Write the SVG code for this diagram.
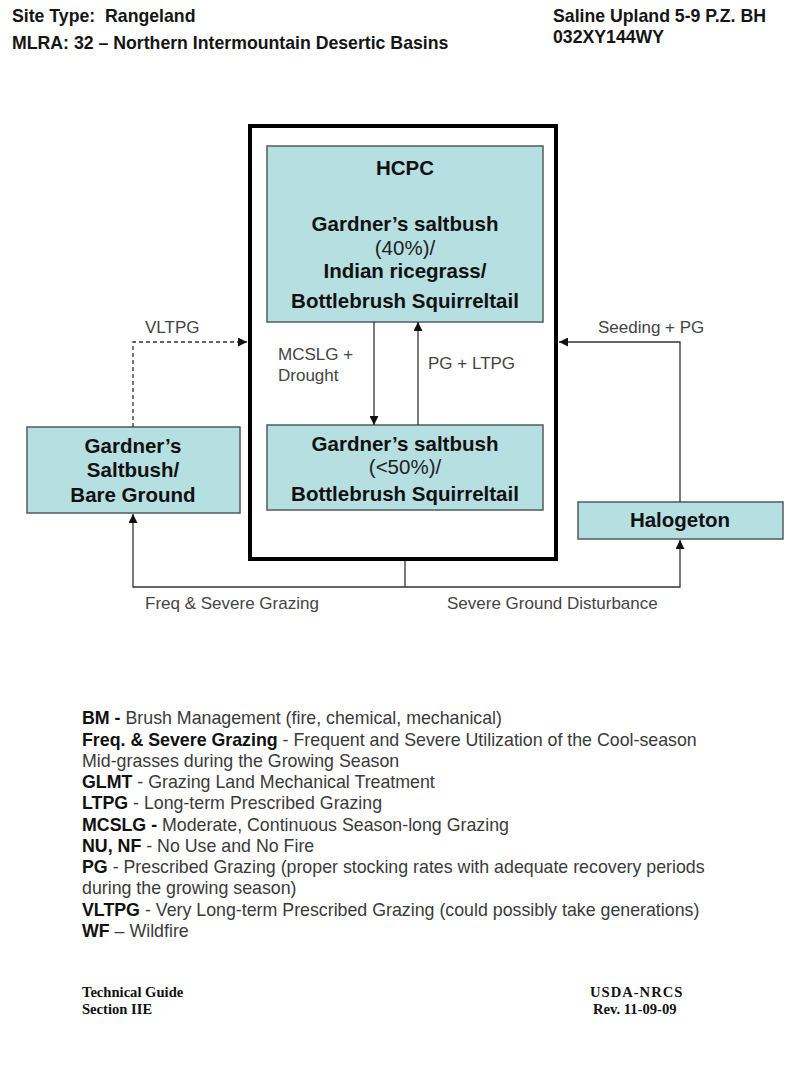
<svg xmlns="http://www.w3.org/2000/svg" width="800" height="1067" viewBox="0 0 800 1067">
<style>
.hdr{font-family:"Liberation Sans",Arial,sans-serif;font-weight:bold;font-size:17.7px;fill:#151515}
.box{fill:#b6dfe2;stroke:#4f5c5e;stroke-width:1.5}
.bt{font-family:"Liberation Sans",Arial,sans-serif;font-weight:bold;font-size:20.5px;fill:#111;text-anchor:middle}
.br{font-family:"Liberation Sans",Arial,sans-serif;font-size:20.5px;fill:#222;text-anchor:middle}
.lbl{font-family:"Liberation Sans",Arial,sans-serif;font-size:17px;fill:#444}
.leg{font-family:"Liberation Sans",Arial,sans-serif;font-size:17.8px;fill:#3a3a3a}
.leg tspan.b{font-weight:bold;fill:#111}
.ft{font-family:"Liberation Serif","Times New Roman",serif;font-weight:bold;font-size:14.6px;fill:#111}
.cn{fill:none;stroke:#333;stroke-width:1.3}
.dash{stroke-dasharray:4,3}
</style>
<defs>
<marker id="ah" viewBox="0 0 10 10" refX="10" refY="5" markerWidth="9" markerHeight="9" markerUnits="userSpaceOnUse" orient="auto">
<path d="M0,0 L10,5 L0,10 z" fill="#111"/>
</marker>
</defs>
<rect width="800" height="1067" fill="#ffffff"/>

<g id="header">
<text class="hdr" x="12" y="22">Site Type:&#160; Rangeland</text>
<text class="hdr" x="12" y="49">MLRA: 32 – Northern Intermountain Desertic Basins</text>
<text class="hdr" x="553" y="22">Saline Upland 5-9 P.Z. BH</text>
<text class="hdr" x="553" y="43">032XY144WY</text>
</g>

<g id="outer-box">
<rect x="250" y="126" width="306" height="433" fill="none" stroke="#000" stroke-width="4"/>
</g>

<g id="node-hcpc">
<rect class="box" x="267" y="146" width="276" height="176"/>
<text class="bt" x="405" y="175">HCPC</text>
<text class="bt" x="405" y="231">Gardner’s saltbush</text>
<text class="br" x="405" y="255">(40%)/</text>
<text class="bt" x="405" y="278">Indian ricegrass/</text>
<text class="bt" x="405" y="308">Bottlebrush Squirreltail</text>
</g>

<g id="node-gs50">
<rect class="box" x="267" y="425" width="276" height="85"/>
<text class="bt" x="405" y="451">Gardner’s saltbush</text>
<text class="br" x="405" y="474">(&lt;50%)/</text>
<text class="bt" x="405" y="501">Bottlebrush Squirreltail</text>
</g>

<g id="node-bare">
<rect class="box" x="27" y="427" width="213" height="86"/>
<text class="bt" x="133" y="453">Gardner’s</text>
<text class="bt" x="133" y="477">Saltbush/</text>
<text class="bt" x="133" y="502">Bare Ground</text>
</g>

<g id="node-halogeton">
<rect class="box" x="578" y="502" width="205" height="37"/>
<text class="bt" x="680" y="527">Halogeton</text>
</g>

<g id="connectors">
<path class="cn dash" d="M133,427 V342 H247" marker-end="url(#ah)"/>
<path class="cn" d="M680,502 V342 H559" marker-end="url(#ah)"/>
<path class="cn" d="M374,322 V425" marker-end="url(#ah)"/>
<path class="cn" d="M418,425 V322" marker-end="url(#ah)"/>
<path class="cn" d="M405,561 V587"/>
<path class="cn" d="M405,587 H133 V514" marker-end="url(#ah)"/>
<path class="cn" d="M405,587 H680 V540" marker-end="url(#ah)"/>
<text class="lbl" x="145" y="333">VLTPG</text>
<text class="lbl" x="598" y="333">Seeding + PG</text>
<text class="lbl" x="278" y="360">MCSLG +</text>
<text class="lbl" x="278" y="381">Drought</text>
<text class="lbl" x="428" y="369">PG + LTPG</text>
<text class="lbl" x="145" y="609">Freq &amp; Severe Grazing</text>
<text class="lbl" x="447" y="609">Severe Ground Disturbance</text>
</g>

<g id="legend">
<text class="leg" x="82" y="724"><tspan class="b">BM - </tspan>Brush Management (fire, chemical, mechanical)</text>
<text class="leg" x="82" y="746"><tspan class="b">Freq. &amp; Severe Grazing</tspan> - Frequent and Severe Utilization of the Cool-season</text>
<text class="leg" x="82" y="767">Mid-grasses during the Growing Season</text>
<text class="leg" x="82" y="788"><tspan class="b">GLMT</tspan> - Grazing Land Mechanical Treatment</text>
<text class="leg" x="82" y="809"><tspan class="b">LTPG</tspan> - Long-term Prescribed Grazing</text>
<text class="leg" x="82" y="831"><tspan class="b">MCSLG - </tspan>Moderate, Continuous Season-long Grazing</text>
<text class="leg" x="82" y="852"><tspan class="b">NU, NF</tspan> - No Use and No Fire</text>
<text class="leg" x="82" y="873"><tspan class="b">PG</tspan> - Prescribed Grazing (proper stocking rates with adequate recovery periods</text>
<text class="leg" x="82" y="894">during the growing season)</text>
<text class="leg" x="82" y="916"><tspan class="b">VLTPG</tspan> - Very Long-term Prescribed Grazing (could possibly take generations)</text>
<text class="leg" x="82" y="937"><tspan class="b">WF</tspan> – Wildfire</text>
</g>

<g id="footer">
<text class="ft" x="82" y="997">Technical Guide</text>
<text class="ft" x="82" y="1014">Section IIE</text>
<text class="ft" x="590" y="997" letter-spacing="1">USDA-NRCS</text>
<text class="ft" x="593" y="1014">Rev. 11-09-09</text>
</g>
</svg>
